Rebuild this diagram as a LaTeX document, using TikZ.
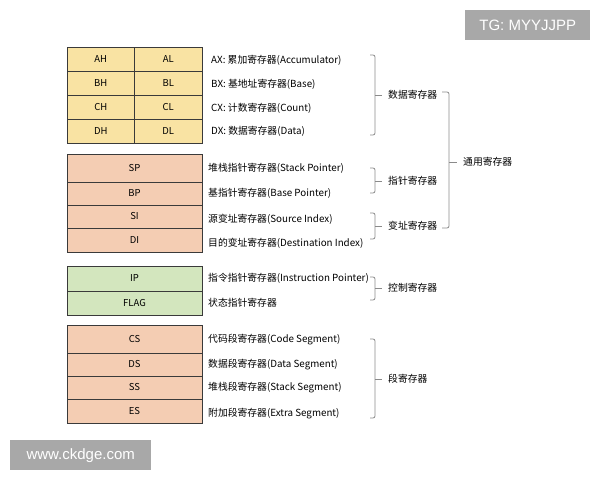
\documentclass[tikz,border=0pt]{standalone}
\usepackage{fontspec}
\setmainfont{Noto Sans CJK SC}
\newfontfamily\markfont{Liberation Sans}
\usetikzlibrary{positioning, calc}
\definecolor{dataYellow}{HTML}{F9E3A3}
\definecolor{segSalmon}{HTML}{F4CDB3}
\definecolor{ctrlGreen}{HTML}{D3E6BE}
\definecolor{cellEdge}{HTML}{3A3A3A}
\definecolor{braceGray}{HTML}{8A8A8A}
\definecolor{markGray}{HTML}{A8A8A8}
\tikzstyle{regCell}  =[draw=cellEdge,rectangle,inner sep=0pt,outer sep=0pt,line width=0.9pt,font=\fontsize{9.5}{11}\selectfont]
\tikzstyle{halfCell} =[regCell,fill=dataYellow,minimum width=67.5pt,minimum height=24pt]
\tikzstyle{segCell}  =[regCell,fill=segSalmon,minimum width=135pt]
\tikzstyle{ctrlCell} =[regCell,fill=ctrlGreen,minimum width=135pt]
\tikzstyle{regText}  =[anchor=west,inner sep=0pt,font=\fontsize{9.8}{11}\selectfont]
\tikzstyle{groupText}=[anchor=west,inner sep=2pt,font=\fontsize{9.8}{11}\selectfont]
\tikzstyle{brace}    =[draw=braceGray,line width=0.8pt,rounded corners=2pt]
\tikzstyle{markBox}  =[fill=markGray,text=white,anchor=north west,minimum height=30pt,inner sep=0pt,font=\markfont\fontsize{15}{17}\selectfont]

\begin{document}
\begin{tikzpicture}[x=1pt,y=-1pt]
\useasboundingbox (0,0) rectangle (600,480);
% data registers
\node [halfCell,anchor=north west] (ah) at (67,47) {AH};
\node [halfCell,right=0pt of ah] (al) {AL};
\node [halfCell,below=0pt of ah] (bh) {BH};
\node [halfCell,right=0pt of bh] (bl) {BL};
\node [halfCell,below=0pt of bh] (ch) {CH};
\node [halfCell,right=0pt of ch] (cl) {CL};
\node [halfCell,below=0pt of ch] (dh) {DH};
\node [halfCell,right=0pt of dh] (dl) {DL};
\node [regText] (ax) at (211,60)  {AX: 累加寄存器(Accumulator)};
\node [regText] (bx) at (211,84)  {BX: 基地址寄存器(Base)};
\node [regText] (cx) at (211,108) {CX: 计数寄存器(Count)};
\node [regText] (dx) at (211,131) {DX: 数据寄存器(Data)};
% pointer and index registers
\node [segCell,minimum height=28pt,anchor=north west] (sp) at (67,154) {SP};
\node [segCell,minimum height=23pt,below=0pt of sp] (bp) {BP};
\node [segCell,minimum height=23pt,below=0pt of bp] (si) {SI};
\node [segCell,minimum height=24pt,below=0pt of si] (di) {DI};
\node [regText] (spText) at (208,168) {堆栈指针寄存器(Stack Pointer)};
\node [regText] (bpText) at (208,193) {基指针寄存器(Base Pointer)};
\node [regText] (siText) at (208,219) {源变址寄存器(Source Index)};
\node [regText] (diText) at (208,243) {目的变址寄存器(Destination Index)};
% control registers
\node [ctrlCell,minimum height=25pt,anchor=north west] (ip) at (67,266) {IP};
\node [ctrlCell,minimum height=24pt,below=0pt of ip] (flag) {FLAG};
\node [regText] (ipText)   at (208,278) {指令指针寄存器(Instruction Pointer)};
\node [regText] (flagText) at (208,303) {状态指针寄存器};
% segment registers
\node [segCell,minimum height=28pt,anchor=north west] (cs) at (67,325) {CS};
\node [segCell,minimum height=23pt,below=0pt of cs] (ds) {DS};
\node [segCell,minimum height=23pt,below=0pt of ds] (ss) {SS};
\node [segCell,minimum height=24pt,below=0pt of ss] (es) {ES};
\node [regText] (csText) at (208,340) {代码段寄存器(Code Segment)};
\node [regText] (dsText) at (208,365) {数据段寄存器(Data Segment)};
\node [regText] (ssText) at (208,388) {堆栈段寄存器(Stack Segment)};
\node [regText] (esText) at (208,414) {附加段寄存器(Extra Segment)};
% group names
\node [groupText] (dataGroup) at (386,95)  {数据寄存器};
\node [groupText] (ptrGroup)  at (386,181) {指针寄存器};
\node [groupText] (idxGroup)  at (386,226) {变址寄存器};
\node [groupText] (ctrlGroup) at (386,288) {控制寄存器};
\node [groupText] (segGroup)  at (386,379) {段寄存器};
\node [groupText] (genGroup)  at (461,162) {通用寄存器};
% braces
\draw [brace] (370,55) -- (375,55) -- (375,135) -- (370,135);
\draw [brace,shorten >=4pt] (375,95) -- (dataGroup.west);
\draw [brace] (370,168) -- (375,168) -- (375,193) -- (370,193);
\draw [brace,shorten >=4pt] (375,181) -- (ptrGroup.west);
\draw [brace] (370,213) -- (375,213) -- (375,239) -- (370,239);
\draw [brace,shorten >=4pt] (375,226) -- (idxGroup.west);
\draw [brace] (370,277) -- (375,277) -- (375,300) -- (370,300);
\draw [brace,shorten >=4pt] (375,288) -- (ctrlGroup.west);
\draw [brace] (370,339) -- (375,339) -- (375,418) -- (370,418);
\draw [brace,shorten >=4pt] (375,379) -- (segGroup.west);
\draw [brace] (442,92) -- (449,92) -- (449,228) -- (442,228);
\draw [brace,shorten >=4pt] (449,162) -- (genGroup.west);
% marks
\node [markBox,minimum width=125pt] (tgMark)  at (465,10)  {TG: MYYJJPP};
\node [markBox,minimum width=141pt] (webMark) at (10,440)  {www.ckdge.com};
\end{tikzpicture}
\end{document}
